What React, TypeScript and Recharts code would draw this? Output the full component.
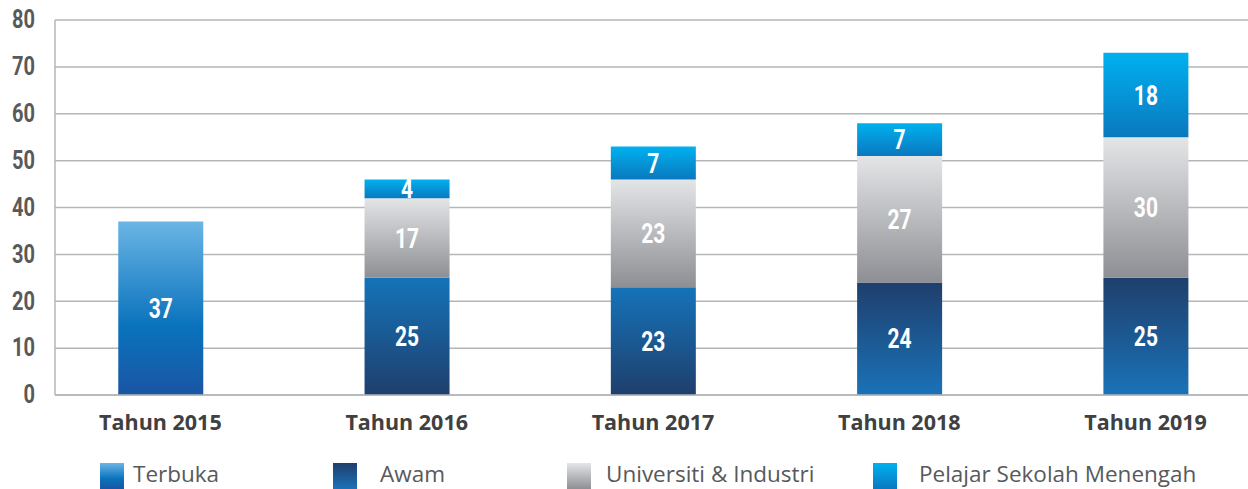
import { Bar, BarChart, CartesianGrid, Cell, LabelList, Legend, XAxis, YAxis } from "recharts"

const categories = ["Tahun 2015", "Tahun 2016", "Tahun 2017", "Tahun 2018", "Tahun 2019"]
const terbuka = [37, null, null, null, null]
const awam = [null, 25, 23, 24, 25]
const universiti = [null, 17, 23, 27, 30]
const pelajar = [null, 4, 7, 7, 18]
const yTicks = [0, 10, 20, 30, 40, 50, 60, 70, 80]
const legendNames = ["Terbuka", "Awam", "Universiti & Industri", "Pelajar Sekolah Menengah"]

const data = categories.map((name, i) => ({
  idx: i,
  name,
  terbuka: terbuka[i],
  awam: awam[i],
  universiti: universiti[i],
  pelajar: pelajar[i],
}))

// gradient stops, top -> bottom
const grads: Record<string, [number, string][]> = {
  terbuka: [[0, "#6ab5e5"], [0.6, "#0a73bd"], [1, "#1a55a3"]],
  awamDown: [[0, "#1573b9"], [1, "#1f3f6c"]],
  awamUp: [[0, "#1f3f6c"], [1, "#1a72b8"]],
  universiti: [[0, "#e4e5e7"], [1, "#8e8f94"]],
  pelajar: [[0, "#00b1ef"], [1, "#0a78bf"]],
}
const legendGrad = ["terbuka", "awamUp", "universiti", "pelajar"]
const legendSquareX = [100, 333, 567, 873]
const legendTextX = [133, 380, 606, 919]

const gridColor = "#b5b6b8"

const css = (id: string) =>
  `linear-gradient(to bottom, ${grads[id].map(([o, c]) => `${c} ${o * 100}%`).join(", ")})`

// condensed look: squeeze Roboto bold horizontally
function YTick(props: any) {
  const { x, y, payload } = props
  return (
    <text
      transform={`translate(${x},${y}) scale(0.8,1)`}
      textAnchor="end"
      dominantBaseline="central"
      fill="#58595b"
      fontSize={25}
      fontWeight={700}
      fontFamily="Roboto, sans-serif"
    >
      {payload.value}
    </text>
  )
}

function BarLabel(props: any) {
  const { x, y, width, height, value } = props
  if (value == null) return null
  return (
    <text
      transform={`translate(${x + width / 2},${y + height / 2}) scale(0.75,1)`}
      textAnchor="middle"
      dominantBaseline="central"
      fill="#ffffff"
      fontSize={28}
      fontWeight={700}
      fontFamily="Roboto, sans-serif"
    >
      {value}
    </text>
  )
}

function LegendContent() {
  return (
    <div style={{ position: "relative", width: 1248, height: 40 }}>
      {legendNames.map((n, i) => (
        <div key={n}>
          <div
            style={{
              position: "absolute",
              left: legendSquareX[i],
              top: 14,
              width: 24,
              height: 26,
              background: css(legendGrad[i]),
            }}
          />
          <div
            style={{
              position: "absolute",
              left: legendTextX[i],
              top: 10,
              fontFamily: "'Open Sans', sans-serif",
              fontSize: 22.5,
              lineHeight: "30px",
              color: "#58595b",
              whiteSpace: "nowrap",
            }}
          >
            {n}
          </div>
        </div>
      ))}
    </div>
  )
}

export default function App() {
  return (
    <div style={{ position: "absolute", left: 0, top: 0, background: "#fff" }}>
      <BarChart width={1248} height={489} data={data} margin={{ top: 20, right: 0, bottom: 0, left: 0 }}>
        <defs>
          {Object.keys(grads).map((id) => (
            <linearGradient key={id} id={id} x1="0" y1="0" x2="0" y2="1">
              {grads[id].map(([o, c]) => (
                <stop key={o} offset={o} stopColor={c} />
              ))}
            </linearGradient>
          ))}
        </defs>
        <CartesianGrid vertical={false} stroke={gridColor} strokeWidth={1.5} />
        <XAxis
          dataKey="idx"
          type="number"
          domain={[-0.428, 4.416]}
          ticks={[0, 1, 2, 3, 4]}
          tickFormatter={(i) => categories[i]}
          height={54}
          tickLine={false}
          tickMargin={14}
          axisLine={{ stroke: gridColor, strokeWidth: 1.5 }}
          tick={{ fill: "#404041", fontSize: 21.5, fontWeight: 700, fontFamily: "'Open Sans', sans-serif" }}
        />
        <YAxis
          domain={[0, 80]}
          ticks={yTicks}
          width={55}
          tickLine={false}
          tickMargin={14}
          axisLine={{ stroke: gridColor, strokeWidth: 1.5 }}
          tick={<YTick />}
        />
        <Legend verticalAlign="bottom" content={<LegendContent />} wrapperStyle={{ left: 0, bottom: 0, width: 1248, height: 40 }} />
        <Bar dataKey="terbuka" stackId="a" barSize={85} fill="url(#terbuka)" isAnimationActive={false}>
          <LabelList dataKey="terbuka" content={<BarLabel />} />
        </Bar>
        <Bar dataKey="awam" stackId="a" barSize={85} fill="url(#awamUp)" isAnimationActive={false}>
          {data.map((d) => (
            <Cell key={d.idx} fill={d.idx < 3 ? "url(#awamDown)" : "url(#awamUp)"} />
          ))}
          <LabelList dataKey="awam" content={<BarLabel />} />
        </Bar>
        <Bar dataKey="universiti" stackId="a" barSize={85} fill="url(#universiti)" isAnimationActive={false}>
          <LabelList dataKey="universiti" content={<BarLabel />} />
        </Bar>
        <Bar dataKey="pelajar" stackId="a" barSize={85} fill="url(#pelajar)" isAnimationActive={false}>
          <LabelList dataKey="pelajar" content={<BarLabel />} />
        </Bar>
      </BarChart>
    </div>
  )
}
